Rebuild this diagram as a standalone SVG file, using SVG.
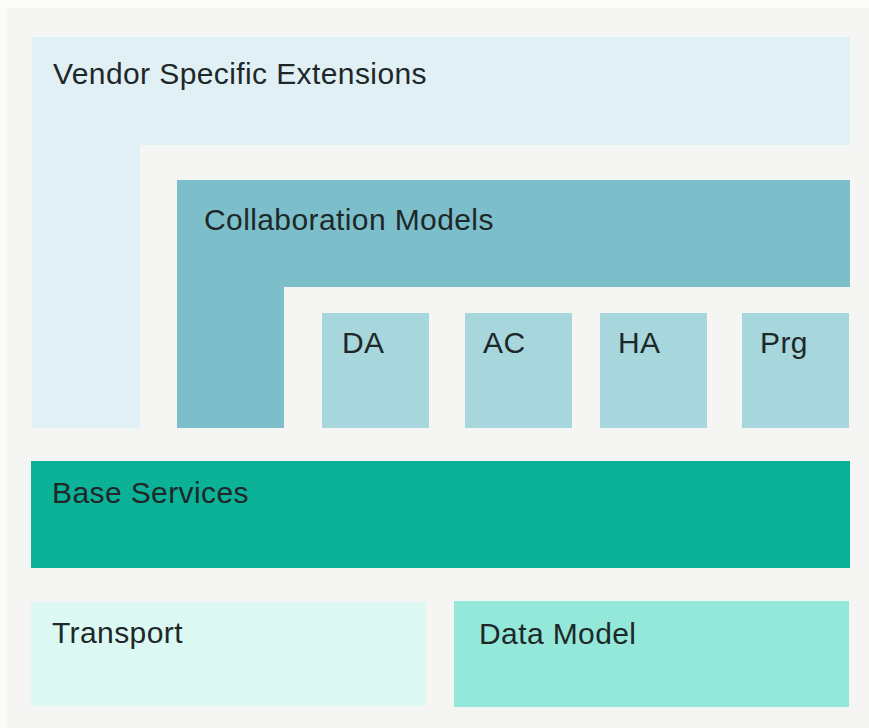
<svg xmlns="http://www.w3.org/2000/svg" width="869" height="728" viewBox="0 0 869 728">
<style>
.lbl{font-family:"Liberation Sans",Arial,Helvetica,sans-serif;font-size:30px;letter-spacing:0.4px;fill:#1e2828}
</style>
<rect x="0" y="0" width="869" height="728" fill="#fbfbfa"/>
<rect x="7" y="8" width="862" height="720" fill="#f5f6f4"/>
<g id="vendor">
<path d="M32 37H850V145H140V428H32Z" fill="#e1f0f5"/>
<text class="lbl" x="53" y="84">Vendor Specific Extensions</text>
</g>
<g id="collab">
<path d="M177 180H850V287H284V428H177Z" fill="#7cbfcb"/>
<text class="lbl" x="204" y="230">Collaboration Models</text>
</g>
<g id="da">
<rect x="322" y="313" width="107" height="115" fill="#a7d6dd"/>
<text class="lbl" x="342" y="353">DA</text>
</g>
<g id="ac">
<rect x="465" y="313" width="107" height="115" fill="#a7d6dd"/>
<text class="lbl" x="483" y="353">AC</text>
</g>
<g id="ha">
<rect x="600" y="313" width="107" height="115" fill="#a7d6dd"/>
<text class="lbl" x="618" y="353">HA</text>
</g>
<g id="prg">
<rect x="742" y="313" width="107" height="115" fill="#a7d6dd"/>
<text class="lbl" x="760" y="353">Prg</text>
</g>
<g id="base">
<rect x="31" y="461" width="819" height="107" fill="#0cb298"/>
<text class="lbl" x="52" y="503">Base Services</text>
</g>
<g id="transport">
<rect x="31" y="602" width="395" height="104" fill="#dcf8f3"/>
<text class="lbl" x="52" y="643">Transport</text>
</g>
<g id="datamodel">
<rect x="454" y="601" width="395" height="106" fill="#93e8da"/>
<text class="lbl" x="479" y="644">Data Model</text>
</g>
<g id="connectors"/>
</svg>
